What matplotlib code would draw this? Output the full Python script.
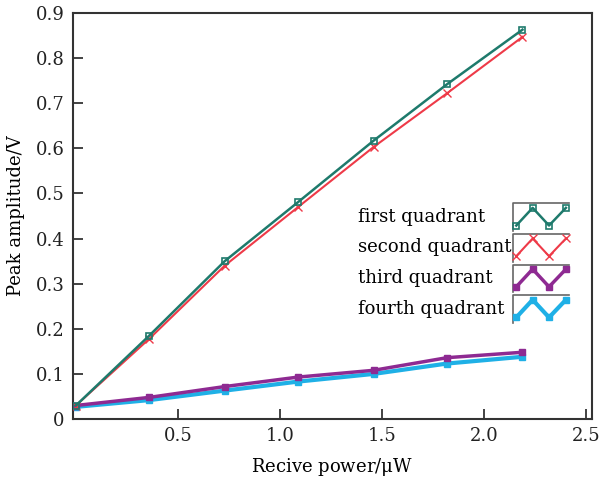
import numpy as np
import matplotlib as mpl
mpl.use('Agg')
import matplotlib.pyplot as plt
from matplotlib.legend_handler import HandlerBase
from matplotlib.lines import Line2D

mpl.rcParams['font.family'] = 'DejaVu Serif'
mpl.rcParams['mathtext.fontset'] = 'dejavuserif'

# received power (uW)
power = [0.0, 0.36, 0.73, 1.09, 1.46, 1.82, 2.19]

# peak amplitude (V) per quadrant
first_q = [0.030, 0.185, 0.350, 0.481, 0.617, 0.742, 0.863]
second_q = [0.030, 0.178, 0.340, 0.470, 0.603, 0.722, 0.847]
third_q = [0.030, 0.048, 0.072, 0.093, 0.108, 0.136, 0.148]
fourth_q = [0.027, 0.042, 0.063, 0.083, 0.100, 0.123, 0.138]

labels = ['first quadrant', 'second quadrant', 'third quadrant', 'fourth quadrant']
xticks = [0.5, 1.0, 1.5, 2.0, 2.5]
yticks = [0, 0.1, 0.2, 0.3, 0.4, 0.5, 0.6, 0.7, 0.8, 0.9]
ytick_labels = ['0', '0.1', '0.2', '0.3', '0.4', '0.5', '0.6', '0.7', '0.8', '0.9']


class ZigzagHandler(HandlerBase):
    # legend sample: zigzag line with markers, inside a bracket
    def create_artists(self, legend, orig, xdescent, ydescent, width, height,
                       fontsize, trans):
        x0 = -xdescent
        lo, hi = -ydescent - 0.3 * height, -ydescent + 1.1 * height
        xs = [x0, x0 + 0.33 * width, x0 + 0.66 * width, x0 + width]
        ys = [lo, hi, lo, hi]
        zz = Line2D(xs, ys, color=orig.get_color(), lw=orig.get_linewidth(),
                    marker=orig.get_marker(), markersize=orig.get_markersize(),
                    markerfacecolor=orig.get_markerfacecolor(),
                    markeredgecolor=orig.get_markeredgecolor(),
                    markeredgewidth=orig.get_markeredgewidth(),
                    transform=trans)
        top = hi + 0.35 * height
        br = Line2D([x0 - 2, x0 - 2, x0 + width + 2], [lo - 0.45 * height, top, top],
                    color='#666666', lw=1.2, transform=trans)
        return [br, zz]


fig = plt.figure(figsize=(6.07, 4.8), dpi=100)
ax = fig.add_axes([0.120, 0.127, 0.855, 0.846])

ax.plot(power, third_q, '-s', color='#8e2a92', lw=2.5, ms=5, label=labels[2], zorder=3)
ax.plot(power, fourth_q, '-s', color='#1fb0e6', lw=3, ms=5, label=labels[3], zorder=2)
ax.plot(power, second_q, '-x', color='#ee3a48', lw=1.5, ms=6, mew=1, label=labels[1], zorder=4)
ax.plot(power, first_q, '-s', color='#1e7a6c', lw=1.8, ms=5, mfc='none', mew=1.2,
        label=labels[0], zorder=5)

ax.set_xlim(-0.015, 2.53)
ax.set_ylim(0, 0.9)
ax.set_xticks(xticks)
ax.set_xticklabels(['%.1f' % v for v in xticks])
ax.set_yticks(yticks)
ax.set_yticklabels(ytick_labels)
ax.tick_params(direction='in', length=7, width=1.2, labelsize=13, colors='#222222',
               top=False, right=False, pad=6)
for s in ax.spines.values():
    s.set_linewidth(1.5)
    s.set_color('#333333')

ax.set_xlabel('Recive power/$\\mathrm{\\mu}$W', fontsize=13, labelpad=8)
ax.set_ylabel('Peak amplitude/V', fontsize=13, labelpad=8)

h, l = ax.get_legend_handles_labels()
order = [3, 2, 0, 1]
leg = ax.legend([h[i] for i in order], [l[i] for i in order],
                handler_map={Line2D: ZigzagHandler()},
                loc='center right', bbox_to_anchor=(0.964, 0.385),
                markerfirst=False, frameon=False, fontsize=13,
                handlelength=2.75, handletextpad=0.25, labelspacing=0.7,
                borderaxespad=0)

# left-align the legend texts (rows are right-aligned when markerfirst=False)
fig.canvas.draw()
r = fig.canvas.get_renderer()
rows = leg._legend_handle_box.get_children()[0].get_children()
widths = [row.get_children()[0]._text.get_window_extent(r).width * 72 / fig.dpi for row in rows]
for row, w in zip(rows, widths):
    row.sep = row.sep + (max(widths) - w)

fig.savefig('out.png', dpi=100)
